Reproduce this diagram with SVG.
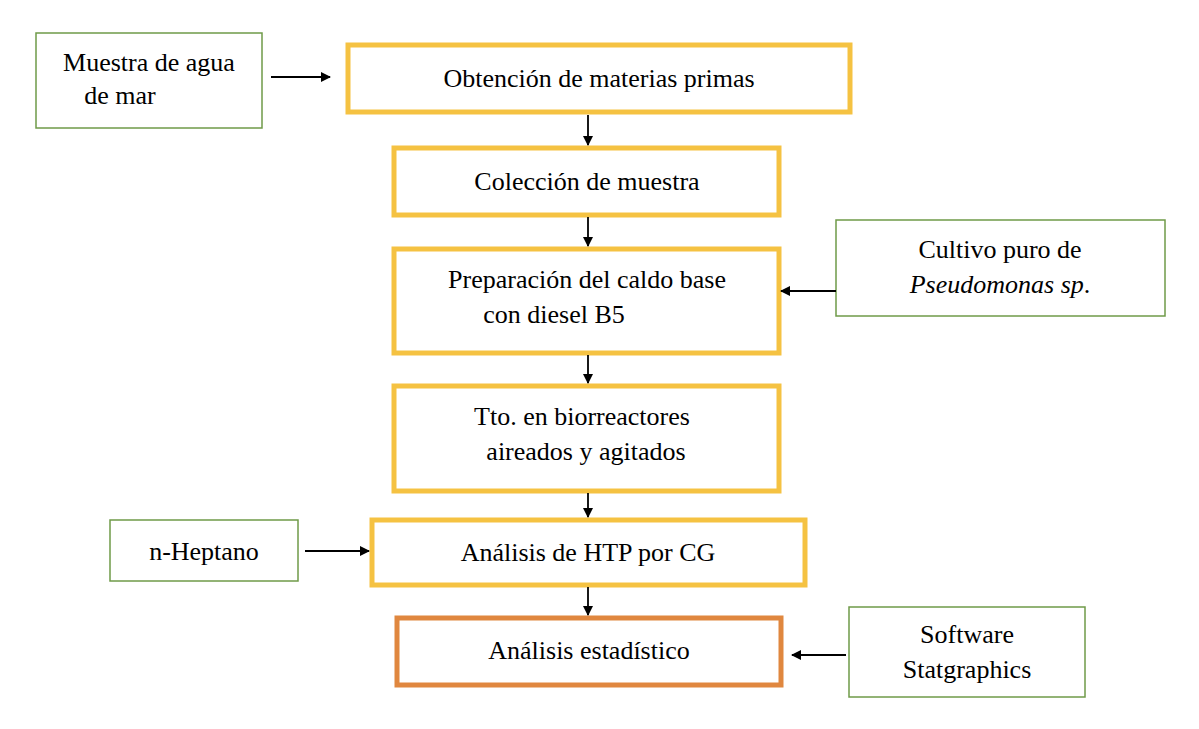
<svg xmlns="http://www.w3.org/2000/svg" width="1199" height="729" viewBox="0 0 1199 729">
<defs>
<marker id="ah" markerWidth="10" markerHeight="10" refX="9" refY="5" orient="auto" markerUnits="userSpaceOnUse"><path d="M0,0 L10,5 L0,10 z" fill="#000"/></marker>
<style>
.y{fill:#fff;stroke:#f5c242;stroke-width:5}
.o{fill:#fff;stroke:#e0873f;stroke-width:5}
.g{fill:#fff;stroke:#6f9a48;stroke-width:1.5}
text{font-family:"Liberation Serif",serif;font-size:26px;text-anchor:middle;fill:#000}
.c line{stroke:#000;stroke-width:1.8;marker-end:url(#ah)}
</style>
</defs>
<rect width="1199" height="729" fill="#fff"/>
<g id="muestra"><rect class="g" x="36" y="33" width="226" height="95"/><text x="149" y="71">Muestra de agua</text><text x="120" y="104">de mar</text></g>
<g id="obtencion"><rect class="y" x="348" y="45" width="502" height="67"/><text x="599" y="87">Obtención de materias primas</text></g>
<g id="coleccion"><rect class="y" x="394" y="148" width="385" height="67"/><text x="587" y="190">Colección de muestra</text></g>
<g id="preparacion"><rect class="y" x="394" y="249" width="385" height="104"/><text x="587" y="288">Preparación del caldo base</text><text x="554" y="323">con diesel B5</text></g>
<g id="tto"><rect class="y" x="394" y="386" width="385" height="105"/><text x="582" y="425">Tto. en biorreactores</text><text x="586" y="460">aireados y agitados</text></g>
<g id="htp"><rect class="y" x="372" y="520" width="433" height="65"/><text x="588" y="561">Análisis de HTP por CG</text></g>
<g id="estadistico"><rect class="o" x="397" y="618" width="384" height="67"/><text x="589" y="659">Análisis estadístico</text></g>
<g id="cultivo"><rect class="g" x="836" y="220" width="329" height="96"/><text x="1000" y="258">Cultivo puro de</text><text x="1000" y="293"><tspan font-style="italic">Pseudomonas sp</tspan>.</text></g>
<g id="heptano"><rect class="g" x="110" y="520" width="188" height="61"/><text x="204" y="560">n-Heptano</text></g>
<g id="software"><rect class="g" x="849" y="607" width="236" height="90"/><text x="967" y="643">Software</text><text x="967" y="678">Statgraphics</text></g>
<g class="c" id="connectors">
<line x1="271" y1="77" x2="330" y2="77"/>
<line x1="588" y1="115" x2="588" y2="145"/>
<line x1="588" y1="217" x2="588" y2="246"/>
<line x1="588" y1="355" x2="588" y2="383"/>
<line x1="588" y1="493" x2="588" y2="517"/>
<line x1="588" y1="587" x2="588" y2="615"/>
<line x1="836" y1="291" x2="781" y2="291"/>
<line x1="305" y1="551" x2="369" y2="551"/>
<line x1="846" y1="655" x2="792" y2="655"/>
</g>
</svg>
